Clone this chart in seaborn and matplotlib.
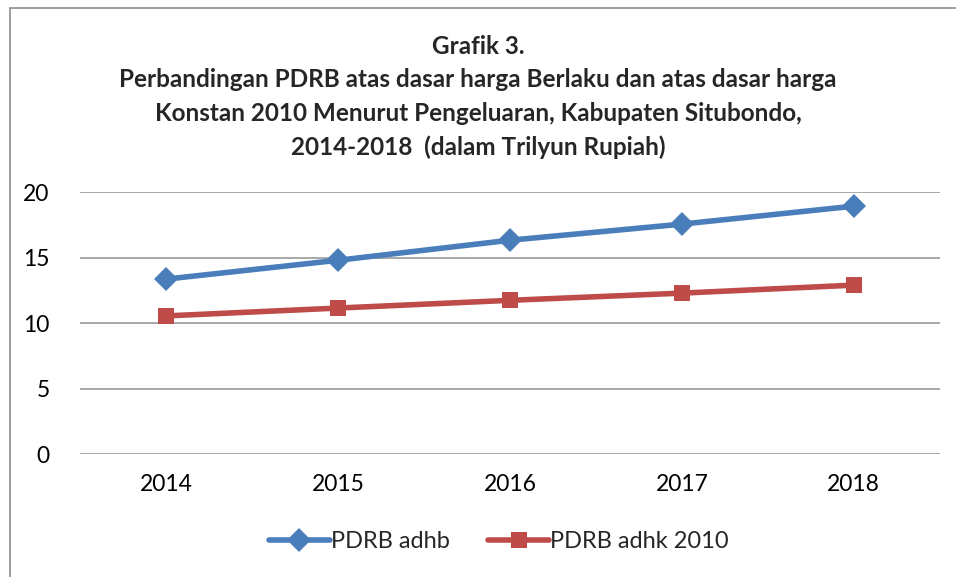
import matplotlib
matplotlib.use("Agg")
import matplotlib.pyplot as plt
import seaborn as sns
import pandas as pd
from matplotlib.patches import Rectangle

years = ["2014", "2015", "2016", "2017", "2018"]
adhb = [13.36, 14.80, 16.33, 17.56, 18.93]
adhk = [10.55, 11.15, 11.74, 12.29, 12.90]
series_names = ["PDRB adhb", "PDRB adhk 2010"]

df = pd.DataFrame({"Tahun": years * 2,
                   "Nilai": adhb + adhk,
                   "Seri": [series_names[0]] * 5 + [series_names[1]] * 5})

sns.set_style("white")
plt.rcParams["font.family"] = ["Lato", "DejaVu Sans"]

fig = plt.figure(figsize=(9.56, 5.77), dpi=100)
ax = fig.add_axes([0.084, 0.213, 0.899, 0.454])

sns.lineplot(data=df, x="Tahun", y="Nilai", hue="Seri", style="Seri",
             markers={series_names[0]: "D", series_names[1]: "s"}, dashes=False,
             palette={series_names[0]: "#4A7EBB", series_names[1]: "#BE4B48"},
             linewidth=4, markersize=12, markeredgewidth=0, ax=ax, legend=True)

ax.set_xlim(-0.5, 4.5)
ax.set_ylim(0, 20)
ax.set_yticks([0, 5, 10, 15, 20])
ax.yaxis.grid(True, color="#9a9a9a", linewidth=1.2)
ax.set_axisbelow(True)
for s in ax.spines.values():
    s.set_visible(False)
ax.set_xlabel("")
ax.set_ylabel("")
ax.tick_params(axis="both", labelsize=16.5, length=0, colors="black")
ax.tick_params(axis="x", pad=14)
ax.tick_params(axis="y", pad=22)

ax.legend(loc="center", bbox_to_anchor=(0.487, -0.335), ncol=2, frameon=False,
          fontsize=17, handlelength=2.6, columnspacing=1.6, handletextpad=0.05)

fig.text(0.5, 0.94, "Grafik 3.\nPerbandingan PDRB atas dasar harga Berlaku dan atas dasar harga\n"
         "Konstan 2010 Menurut Pengeluaran, Kabupaten Situbondo,\n2014-2018  (dalam Trilyun Rupiah)",
         ha="center", va="top", fontsize=17.5, fontweight="bold", linespacing=1.55)

fig.patches.append(Rectangle((10 / 956, -0.1), 1.2, 1 - 8 / 577 + 0.1, transform=fig.transFigure,
                             fill=False, edgecolor="#8c8c8c", linewidth=1.2))

fig.savefig("out.png", dpi=100)
